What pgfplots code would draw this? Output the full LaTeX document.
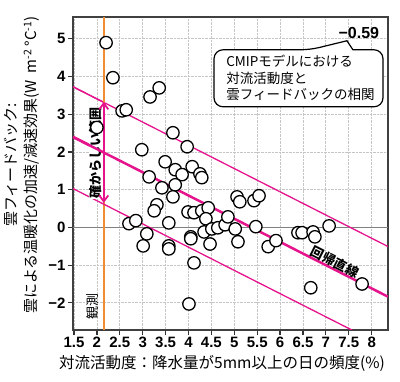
\documentclass[border=0pt]{standalone}
\usepackage{fontspec}
\setmainfont{Liberation Sans}
\newfontfamily\jp{Noto Sans CJK JP}
\usepackage{pgfplots}
\pgfplotsset{compat=1.18}
\usetikzlibrary{arrows.meta}
\definecolor{mypink}{RGB}{230,20,140}
\definecolor{myorange}{RGB}{240,140,50}
\begin{document}
\begin{tikzpicture}
\useasboundingbox (0,0) rectangle (400pt,382pt);
\begin{axis}[
  at={(73pt,52pt)}, anchor=south west,
  scale only axis, width=315pt, height=313pt,
  xmin=1.478, xmax=8.356, ymin=-2.72, ymax=5.58,
  xtick={1.5,2,2.5,3,3.5,4,4.5,5,5.5,6,6.5,7,7.5,8},
  xticklabels={1.5,2,2.5,3,3.5,4,4.5,5,5.5,6,6.5,7,7.5,8},
  ytick={-2,-1,0,1,2,3,4,5},
  yticklabels={−2,−1,0,1,2,3,4,5},
  tick align=outside, tick pos=left,
  major tick length=5pt,
  tick style={line width=1.2pt, black!80},
  axis line style={line width=1.5pt, black!75},
  grid=major, grid style={densely dotted, gray!45, line width=0.8pt},
  ticklabel style={font=\bfseries\fontsize{15}{15}\selectfont},
  xticklabel style={inner xsep=0pt, yshift=1pt},
  yticklabel style={xshift=1pt},
]
\addplot[gray, line width=1.2pt] coordinates {(1.478,0) (8.356,0)};
\addplot[myorange, line width=2pt] coordinates {(2.15,-2.72) (2.15,5.58)};
\addplot[mypink, line width=2.5pt] coordinates {(1.478,2.40) (8.356,-1.837)};
\addplot[mypink, line width=1.3pt] coordinates {(1.478,3.73) (8.356,-0.507)};
\addplot[mypink, line width=1.3pt] coordinates {(1.478,1.03) (8.356,-3.207)};
\addplot[only marks, mark=*, mark size=6.2pt, mark options={fill=white, draw=black, line width=1.3pt}] coordinates {
(2.20,4.90) (2.35,3.97) (2.55,3.09) (2.64,3.12) (3.16,3.46) (3.36,3.70)
(2.00,2.65) (2.98,2.06) (3.66,2.51) (3.97,2.14) (3.49,1.74) (3.71,1.53)
(3.86,1.40) (4.08,1.61) (4.25,1.42) (4.29,1.32) (3.14,1.34) (3.42,1.05)
(3.71,1.13) (3.66,0.81) (3.31,0.60) (3.25,0.44) (2.70,0.10) (2.85,0.18)
(3.09,-0.17) (3.01,-0.49) (3.57,0.12) (3.57,-0.49) (3.57,-0.57) (3.99,0.41)
(4.12,0.39) (4.29,0.44) (4.43,0.52) (4.38,0.23) (4.34,-0.12) (4.51,-0.04)
(4.64,-0.01) (4.80,0.07) (4.86,0.28) (5.02,-0.04) (4.05,-0.25) (4.05,-0.30)
(4.47,-0.44) (5.08,-0.38) (4.12,-0.94) (4.01,-2.03) (5.06,0.81) (5.12,0.68)
(5.43,0.71) (5.54,0.84) (5.47,0.02) (5.74,-0.51) (5.91,-0.35) (6.39,-0.14)
(6.48,-0.14) (6.72,-0.12) (6.76,-0.25) (7.07,0.04) (6.67,-1.60) (7.79,-1.50)
};
\node[rotate=90, fill=white, inner sep=0.3pt, font=\jp\bfseries\fontsize{13}{13}\selectfont] at (axis cs:1.98,1.98) {確からしい範囲};
\addplot[mypink, line width=1.3pt] coordinates {(1.478,3.73) (2.15,3.316)};
\addplot[mypink, line width=2.5pt] coordinates {(1.478,2.40) (2.15,1.986)};
\addplot[myorange, line width=2pt] coordinates {(2.15,3.3) (2.15,5.58)};
\draw[{Straight Barb[length=6pt,width=9pt]}-{Straight Barb[length=6pt,width=9pt]}, mypink, line width=1.8pt] (axis cs:2.15,3.33) -- (axis cs:2.15,0.65);
\node[rotate=90, font=\jp\fontsize{13}{13}\selectfont] at (axis cs:1.91,-2.11) {観測};
\node[rotate=-26.9, font=\jp\bfseries\fontsize{13}{13}\selectfont] at (axis cs:7.2,-0.92) {回帰直線};
\draw[line width=1.2pt, fill=white, rounded corners=9pt] (axis cs:7.59,4.711) -- (axis cs:8.247,4.711) -- (axis cs:8.247,3.199) -- (axis cs:4.557,3.199) -- (axis cs:4.557,4.711) -- (axis cs:6.653,4.711) [sharp corners] -- (axis cs:7.46,4.95) -- cycle;
\node[anchor=west, align=left, font=\jp\fontsize{13.5}{16.5}\selectfont] at (axis cs:4.75,3.955) {CMIPモデルにおける\\対流活動度と\\雲フィードバックの相関};
\node[font=\bfseries\fontsize{16}{16}\selectfont] at (axis cs:7.72,5.16) {−0.59};
\end{axis}
\node[rotate=90, align=center, font=\jp\fontsize{15}{20}\selectfont] at (22pt,217pt) {雲フィードバック:\\雲による温暖化の加速/減速効果(W\ \ m\textsuperscript{-2}\ °C\textsuperscript{-1})};
\node[font=\jp\fontsize{15.5}{16}\selectfont] at (222pt,19pt) {対流活動度：降水量が5mm以上の日の頻度(\%)};
\end{tikzpicture}
\end{document}
